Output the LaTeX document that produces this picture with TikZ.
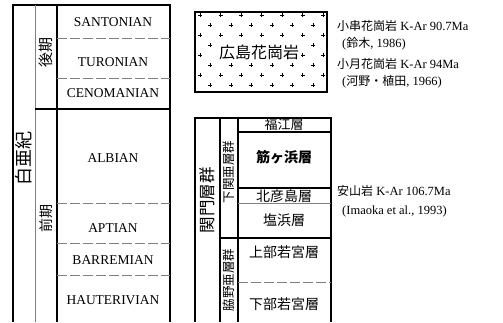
\documentclass[tikz,border=0pt]{standalone}
\usepackage{fontspec}
\setmainfont{Liberation Serif}
\newfontfamily\cjk{Noto Sans CJK JP}
\begin{document}
\begin{tikzpicture}[x=1pt,y=-1pt,
  heavy/.style={line width=1.7pt},
  mid/.style={line width=1.1pt},
  faint/.style={line width=0.6pt,gray},
  rowline/.style={line width=0.6pt,gray,dash pattern=on 10pt off 3pt},
  stage/.style={font=\fontsize{13.5}{13.5}\selectfont,inner sep=0pt},
  jp/.style={font={\cjk\fontsize{#1}{#1}\selectfont},inner sep=0pt},
  note/.style={font={\fontsize{12.5}{12.5}\selectfont},anchor=west,inner sep=0pt},
  plus/.style={line width=0.45pt}]
\useasboundingbox (0,0) rectangle (503,322);
% ---------- left table ----------
\draw[heavy] (13,322) -- (13,5) -- (170,5) -- (170,322);
\draw[mid] (57,5) -- (57,322);
\draw[faint] (35,5) -- (35,322);
\draw[mid] (35,109) -- (170,109);
\foreach \yy in {38,78,203,243,275} \draw[rowline] (57,\yy) -- (170,\yy);
\node[stage] (san) at (113,22) {SANTONIAN};
\node[stage] (tur) at (113,62) {TURONIAN};
\node[stage] (cen) at (113,93) {CENOMANIAN};
\node[stage] (alb) at (113,158) {ALBIAN};
\node[stage] (apt) at (113,228) {APTIAN};
\node[stage] (bar) at (113,260) {BARREMIAN};
\node[stage] (hau) at (113,300) {HAUTERIVIAN};
\node[jp=18,rotate=90] (kre) at (24,158) {白亜紀};
\node[jp=15,rotate=90] (late) at (46,52) {後期};
\node[jp=14,rotate=90] (early) at (46,218) {前期};
% ---------- granite box ----------
\draw[heavy] (195,12) rectangle (327,92);
\foreach \r in {0,...,7}{
  \pgfmathsetmacro{\yy}{15+10*\r}
  \ifodd\r
    \foreach \k in {0,...,5}{
      \pgfmathsetmacro{\xx}{210.25+20.5*\k}
      \draw[plus] (\xx-2,\yy) -- (\xx+2,\yy) (\xx,\yy-2) -- (\xx,\yy+2);}
  \else
    \foreach \k in {0,...,6}{
      \pgfmathsetmacro{\xx}{200+20.5*\k}
      \draw[plus] (\xx-2,\yy) -- (\xx+2,\yy) (\xx,\yy-2) -- (\xx,\yy+2);}
  \fi}
\node[jp=16,fill=white,inner sep=2pt] (hiro) at (259,52) {広島花崗岩};
\node[note] (n1) at (337,26) {{\cjk\fontsize{12}{12}\selectfont 小串花崗岩} K-Ar 90.7Ma};
\node[note] (n2) at (342,44) {({\cjk\fontsize{12}{12}\selectfont 鈴木}, 1986)};
\node[note] (n3) at (337,64) {{\cjk\fontsize{12}{12}\selectfont 小月花崗岩} K-Ar 94Ma};
\node[note] (n4) at (342,82) {({\cjk\fontsize{12}{12}\selectfont 河野・植田}, 1966)};
% ---------- Kanmon table ----------
\draw[heavy] (195,322) -- (195,118) -- (331,118) -- (331,322);
\draw[mid] (220,118) -- (220,322);
\draw[mid] (238,118) -- (238,322);
\draw[mid] (238,132) -- (331,132);
\draw[mid] (238,188) -- (331,188);
\draw[faint] (238,203) -- (331,203);
\draw[mid] (220,238) -- (331,238);
\draw[rowline] (238,282) -- (331,282);
\node[jp=13] (fuk) at (284,125) {福江層};
\node[jp=14,font={\cjk\bfseries\fontsize{14}{14}\selectfont}] (suj) at (284,157) {筋ヶ浜層};
\node[jp=14] (kit) at (284,196) {北彦島層};
\node[jp=14] (shi) at (284,220) {塩浜層};
\node[jp=14] (jow) at (284,252) {上部若宮層};
\node[jp=14] (kaw) at (284,304) {下部若宮層};
\node[jp=16.5,rotate=90] (kan) at (207,200) {関門層群};
\node[jp=12.5,rotate=90] (shim) at (229,172) {下関亜層群};
\node[jp=12.5,rotate=90] (waki) at (229,280) {脇野亜層群};
\node[note] (n5) at (337,191) {{\cjk\fontsize{12}{12}\selectfont 安山岩} K-Ar 106.7Ma};
\node[note] (n6) at (342,211) {(Imaoka et al., 1993)};
\end{tikzpicture}
\end{document}
